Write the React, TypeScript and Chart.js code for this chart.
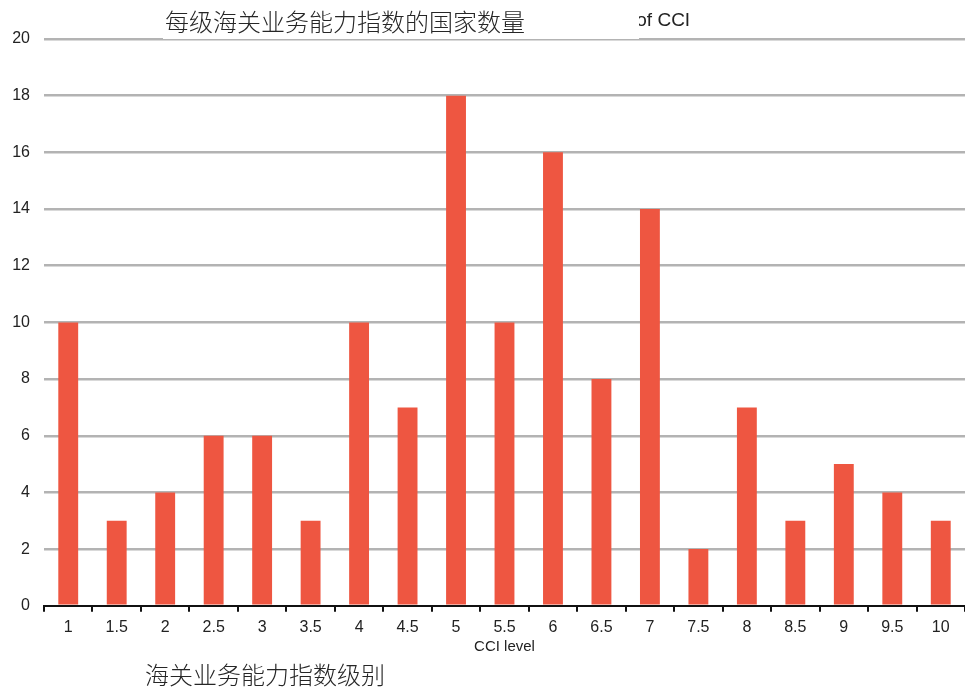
import React, { useEffect, useRef } from "react";
import { Chart, registerables } from "chart.js";

Chart.register(...registerables);

// CCI levels and number of countries at each level
const levels: string[] = ["1", "1.5", "2", "2.5", "3", "3.5", "4", "4.5", "5", "5.5", "6", "6.5", "7", "7.5", "8", "8.5", "9", "9.5", "10"];
const countries: number[] = [10, 3, 4, 6, 6, 3, 10, 7, 18, 10, 16, 8, 14, 2, 7, 3, 5, 4, 3];

const englishTitle = "Number of countries per level of CCI";
const chineseTitle = "每级海关业务能力指数的国家数量";
const englishAxisTitle = "CCI level";
const chineseAxisTitle = "海关业务能力指数级别";

const W = 965;
const H = 688;
const SANS = "'Liberation Sans', Arial, sans-serif";

const overlayText = {
  id: "overlayText",
  afterDraw(chart: Chart) {
    const { ctx, chartArea } = chart;
    const mid = (chartArea.left + chartArea.right) / 2;
    ctx.save();
    // original English heading
    ctx.font = `19px ${SANS}`;
    ctx.fillStyle = "#222";
    ctx.textAlign = "center";
    ctx.textBaseline = "middle";
    ctx.fillText(englishTitle, mid + 32, 21);
    // pasted Chinese heading on a white patch
    ctx.fillStyle = "#ffffff";
    ctx.fillRect(163, 0, 476, 39);
    ctx.fillStyle = "#262626";
    ctx.font = "300 24px 'Noto Sans CJK SC', sans-serif";
    ctx.textAlign = "left";
    ctx.fillText(chineseTitle, 165, 22);
    // Chinese axis caption beneath the chart
    ctx.fillText(chineseAxisTitle, 145, 675);
    ctx.restore();
  },
};

export default function App() {
  const ref = useRef<HTMLCanvasElement | null>(null);

  useEffect(() => {
    if (!ref.current) return;
    const chart = new Chart(ref.current, {
      type: "bar",
      data: {
        labels: levels,
        datasets: [
          {
            data: countries,
            backgroundColor: "#ee5641",
            borderWidth: 0,
            categoryPercentage: 1,
            barPercentage: 0.41,
          },
        ],
      },
      options: {
        responsive: false,
        animation: false,
        devicePixelRatio: 1,
        layout: { padding: { top: 39, left: 0, right: 0, bottom: 27 } },
        plugins: {
          legend: { display: false },
          title: { display: false },
          tooltip: { enabled: false },
        },
        scales: {
          x: {
            grid: {
              drawOnChartArea: false,
              drawTicks: true,
              tickLength: 6,
              color: "#111",
              lineWidth: 2,
              offset: true,
            },
            border: { display: true, color: "#111", width: 2 },
            ticks: {
              color: "#222",
              font: { family: SANS, size: 16 },
              padding: 6,
              maxRotation: 0,
              autoSkip: false,
            },
            title: {
              display: true,
              text: englishAxisTitle,
              color: "#222",
              font: { family: SANS, size: 15 },
              padding: { top: -5, bottom: 5 },
            },
          },
          y: {
            min: 0,
            max: 20,
            ticks: {
              stepSize: 2,
              color: "#222",
              font: { family: SANS, size: 16 },
              padding: 14,
            },
            grid: {
              color: (c: any) => (c.tick && c.tick.value === 0 ? "rgba(0,0,0,0)" : "#b3b3b3"),
              lineWidth: 2.5,
              drawTicks: false,
            },
            border: { display: false },
            afterFit(scale: any) {
              scale.width = 44;
            },
          },
        },
      },
      plugins: [overlayText],
    });
    return () => chart.destroy();
  }, []);

  return (
    <div style={{ position: "fixed", left: 0, top: 0, width: W, height: H, background: "#fff" }}>
      <canvas ref={ref} width={W} height={H} style={{ display: "block", width: W, height: H }} />
    </div>
  );
}
